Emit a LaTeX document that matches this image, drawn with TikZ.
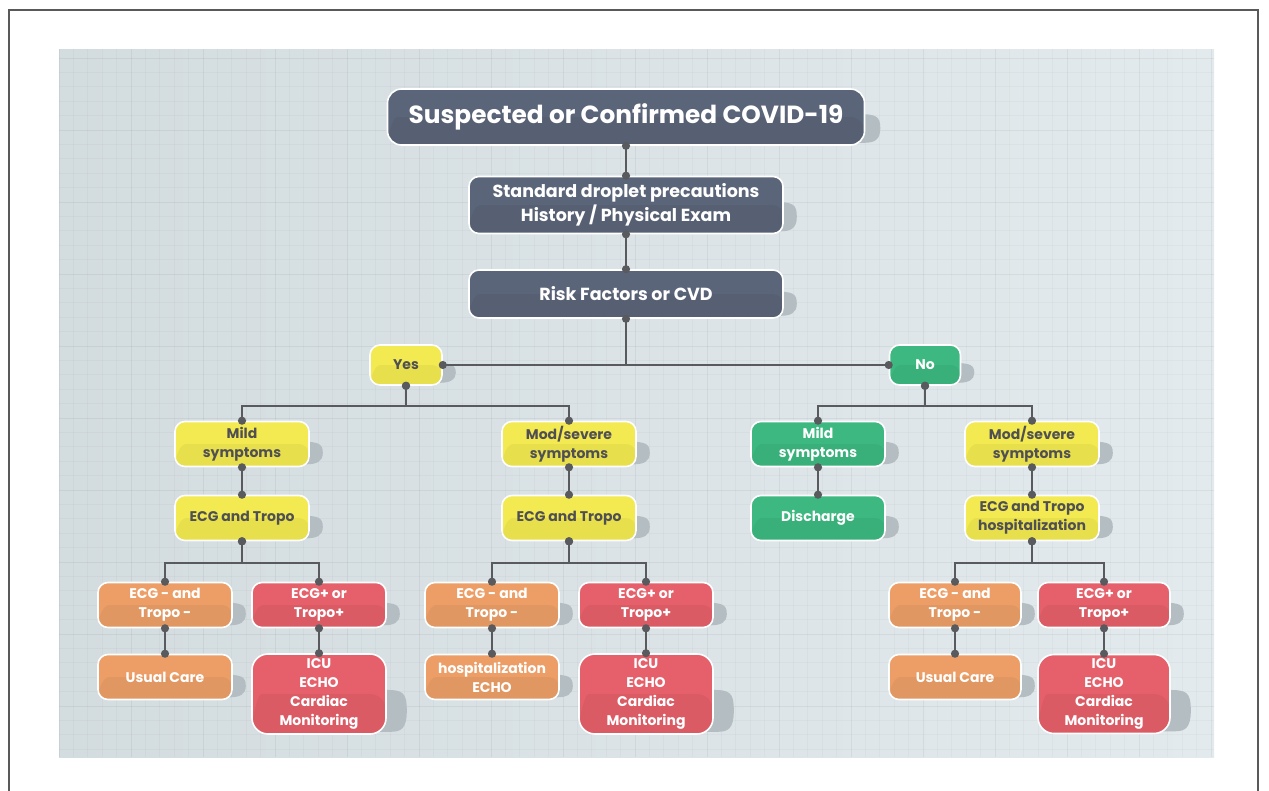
\documentclass[tikz,border=0pt]{standalone}
\usepackage{fontspec}
\setmainfont{Poppins}
\usetikzlibrary{calc,arrows.meta}
\definecolor{bgL}{RGB}{211,220,223}
\definecolor{bgR}{RGB}{227,234,237}
\definecolor{slate}{RGB}{91,101,121}
\definecolor{yel}{RGB}{242,234,80}
\definecolor{grn}{RGB}{60,184,128}
\definecolor{org}{RGB}{236,158,102}
\definecolor{rd}{RGB}{229,96,106}
\definecolor{lineC}{RGB}{88,90,94}
\definecolor{txtDark}{RGB}{80,80,84}
\definecolor{shadC}{RGB}{180,189,194}
\pgfdeclarelayer{bg}
\pgfdeclarelayer{shad}
\pgfsetlayers{bg,shad,main}
\newcommand\shadowof[2][13]{%
  \begin{pgfonlayer}{shad}
  \fill[shadC] let \p1=(#2.north east), \p2=(#2.south east),
      \n1={\y2+0.55*(\y1-\y2)}, \n2={\y2+3}, \n3={(\n1+\n2)/2} in
    (\x1-25pt,{\n1*1pt}) -- (\x1+#1pt-22pt,{\n1*1pt})
    .. controls (\x1+#1pt-4pt,{\n1*1pt}) and (\x1+#1pt,{\n1*1pt-2pt}) .. (\x1+#1pt,{\n3*1pt})
    .. controls (\x1+#1pt,{\n2*1pt+3pt}) and (\x1+#1pt-6pt,{\n2*1pt}) .. (\x1+#1pt-16pt,{\n2*1pt})
    -- (\x1-25pt,{\n2*1pt}) -- cycle;
  \end{pgfonlayer}}
\tikzset{
  card/.style={rounded corners=10pt, draw=white, line width=1.6pt, align=center,
    inner sep=0pt, text=white, font=\bfseries\fontsize{14}{19}\selectfont,
    minimum width=134pt, minimum height=45pt,
    path picture={\fill[black,opacity=.045]
      ($(path picture bounding box.south west)!0.5!(path picture bounding box.west)$)
      .. controls ($(path picture bounding box.west)+(8,0)$) .. ($(path picture bounding box.west)+(30,0)$)
      -- (path picture bounding box.east) -- (path picture bounding box.south east)
      -- (path picture bounding box.south west) -- cycle;}},
  darkcard/.style={card, fill=slate},
  yelcard/.style={card, fill=yel, text=txtDark},
  grncard/.style={card, fill=grn},
  orgcard/.style={card, fill=org},
  redcard/.style={card, fill=rd},
  conn/.style={draw=lineC, line width=2.2pt, {Circle[length=8pt]}-{Circle[length=8pt]}, shorten <=-4pt, shorten >=-4pt},
  connA/.style={draw=lineC, line width=2.2pt, {Circle[length=8pt]}-, shorten <=-4pt},
}
\begin{document}
\begin{tikzpicture}[x=1pt,y=-1pt]
\useasboundingbox (0,0) rectangle (1269,790);
\begin{pgfonlayer}{bg}
\fill[white] (0,0) rectangle (1269,790);
\draw[line width=1.4pt, color=black!65] (9,800) -- (9,10) -- (1258,10) -- (1258,800);
\shade[left color=bgL, right color=bgR] (59,49) rectangle (1214,757);
\begin{scope}
\clip (59,49) rectangle (1214,757);
\foreach \i in {0,...,80} {
  \pgfmathtruncatemacro\m{mod(\i,5)}
  \ifnum\m=0 \draw[black, opacity=.05, line width=1pt] ({59+\i*14.4},49) -- ({59+\i*14.4},757);
  \else \draw[black, opacity=.025, line width=0.7pt] ({59+\i*14.4},49) -- ({59+\i*14.4},757); \fi
}
\foreach \i in {-1,...,49} {
  \pgfmathtruncatemacro\m{mod(\i+5,5)}
  \ifnum\m=0 \draw[black, opacity=.05, line width=1pt] (59,{58+\i*14.4}) -- (1214,{58+\i*14.4});
  \else \draw[black, opacity=.025, line width=0.7pt] (59,{58+\i*14.4}) -- (1214,{58+\i*14.4}); \fi
}
\end{scope}
\end{pgfonlayer}

% top chain
\node[darkcard, minimum width=477pt, minimum height=56pt, rounded corners=14pt, font=\bfseries\fontsize{24.8}{28}\selectfont] (title) at (626,117) {Suspected or Confirmed COVID-19};
\node[darkcard, minimum width=314pt, minimum height=57pt, font=\bfseries\fontsize{17.5}{24}\selectfont] (std) at (626,205) {Standard droplet precautions\\History / Physical Exam};
\node[darkcard, minimum width=314pt, minimum height=48pt, font=\bfseries\fontsize{17.5}{24}\selectfont] (risk) at (626,294) {Risk Factors or CVD};
\node[yelcard, minimum width=72pt, minimum height=40pt] (yes) at (406,365) {Yes};
\node[grncard, minimum width=71pt, minimum height=40pt] (no) at (925,365) {No};

% second level
\node[yelcard] (mildY) at (242,444) {Mild\\symptoms};
\node[yelcard] (modY) at (569,444) {Mod/severe\\symptoms};
\node[grncard] (mildN) at (818,444) {Mild\\symptoms};
\node[yelcard] (modN) at (1032,444) {Mod/severe\\symptoms};

% third level
\node[yelcard] (ecgA) at (242,518) {ECG and Tropo};
\node[yelcard] (ecgB) at (569,518) {ECG and Tropo};
\node[grncard] (dis) at (818,518) {Discharge};
\node[yelcard] (ecgC) at (1032,518) {ECG and Tropo\\hospitalization};

% fourth level
\node[orgcard] (negA) at (165,605) {ECG - and\\Tropo -};
\node[redcard] (posA) at (319,605) {ECG+ or\\Tropo+};
\node[orgcard] (negB) at (492,605) {ECG - and\\Tropo -};
\node[redcard] (posB) at (646,605) {ECG+ or\\Tropo+};
\node[orgcard, minimum width=132pt] (negC) at (955,605) {ECG - and\\Tropo -};
\node[redcard, minimum width=132pt] (posC) at (1104,605) {ECG+ or\\Tropo+};

% fifth level
\node[orgcard] (careA) at (165,677) {Usual Care};
\node[redcard, minimum height=80pt, rounded corners=16pt] (icuA) at (319,694) {ICU\\ECHO\\Cardiac\\Monitoring};
\node[orgcard] (hospB) at (492,677) {hospitalization\\ECHO};
\node[redcard, minimum height=80pt, rounded corners=16pt] (icuB) at (646,694) {ICU\\ECHO\\Cardiac\\Monitoring};
\node[orgcard, minimum width=132pt] (careC) at (955,677) {Usual Care};
\node[redcard, minimum width=132pt, minimum height=79pt, rounded corners=16pt] (icuC) at (1104,694) {ICU\\ECHO\\Cardiac\\Monitoring};

\foreach \nm in {std,risk,yes,no,mildY,modY,mildN,modN,ecgA,ecgB,dis,ecgC,negA,posA,negB,posB,negC,posC,careA,hospB,careC}{\shadowof{\nm}}
\shadowof[15]{title}
\foreach \nm in {icuA,icuB,icuC}{\shadowof[20]{\nm}}

% connectors
\draw[conn] (title.south) -- (std.north);
\draw[conn] (std.south) -- (risk.north);
\draw[connA] (risk.south) -- (risk.south |- yes.east);
\draw[conn] (yes.east) -- (no.west);
\draw[conn] (yes.south) -- ++(0,20) -| (mildY.north);
\draw[conn] (yes.south) -- ++(0,20) -| (modY.north);
\draw[conn] (no.south) -- ++(0,20) -| (mildN.north);
\draw[conn] (no.south) -- ++(0,20) -| (modN.north);
\draw[conn] (mildY.south) -- (ecgA.north);
\draw[conn] (modY.south) -- (ecgB.north);
\draw[conn] (mildN.south) -- (dis.north);
\draw[conn] (modN.south) -- (ecgC.north);
\draw[conn] (ecgA.south) -- ++(0,22) -| (negA.north);
\draw[conn] (ecgA.south) -- ++(0,22) -| (posA.north);
\draw[conn] (ecgB.south) -- ++(0,22) -| (negB.north);
\draw[conn] (ecgB.south) -- ++(0,22) -| (posB.north);
\draw[conn] (ecgC.south) -- ++(0,22) -| (negC.north);
\draw[conn] (ecgC.south) -- ++(0,22) -| (posC.north);
\draw[conn] (negA.south) -- (careA.north);
\draw[conn] (posA.south) -- (icuA.north);
\draw[conn] (negB.south) -- (hospB.north);
\draw[conn] (posB.south) -- (icuB.north);
\draw[conn] (negC.south) -- (careC.north);
\draw[conn] (posC.south) -- (icuC.north);
\end{tikzpicture}
\end{document}
